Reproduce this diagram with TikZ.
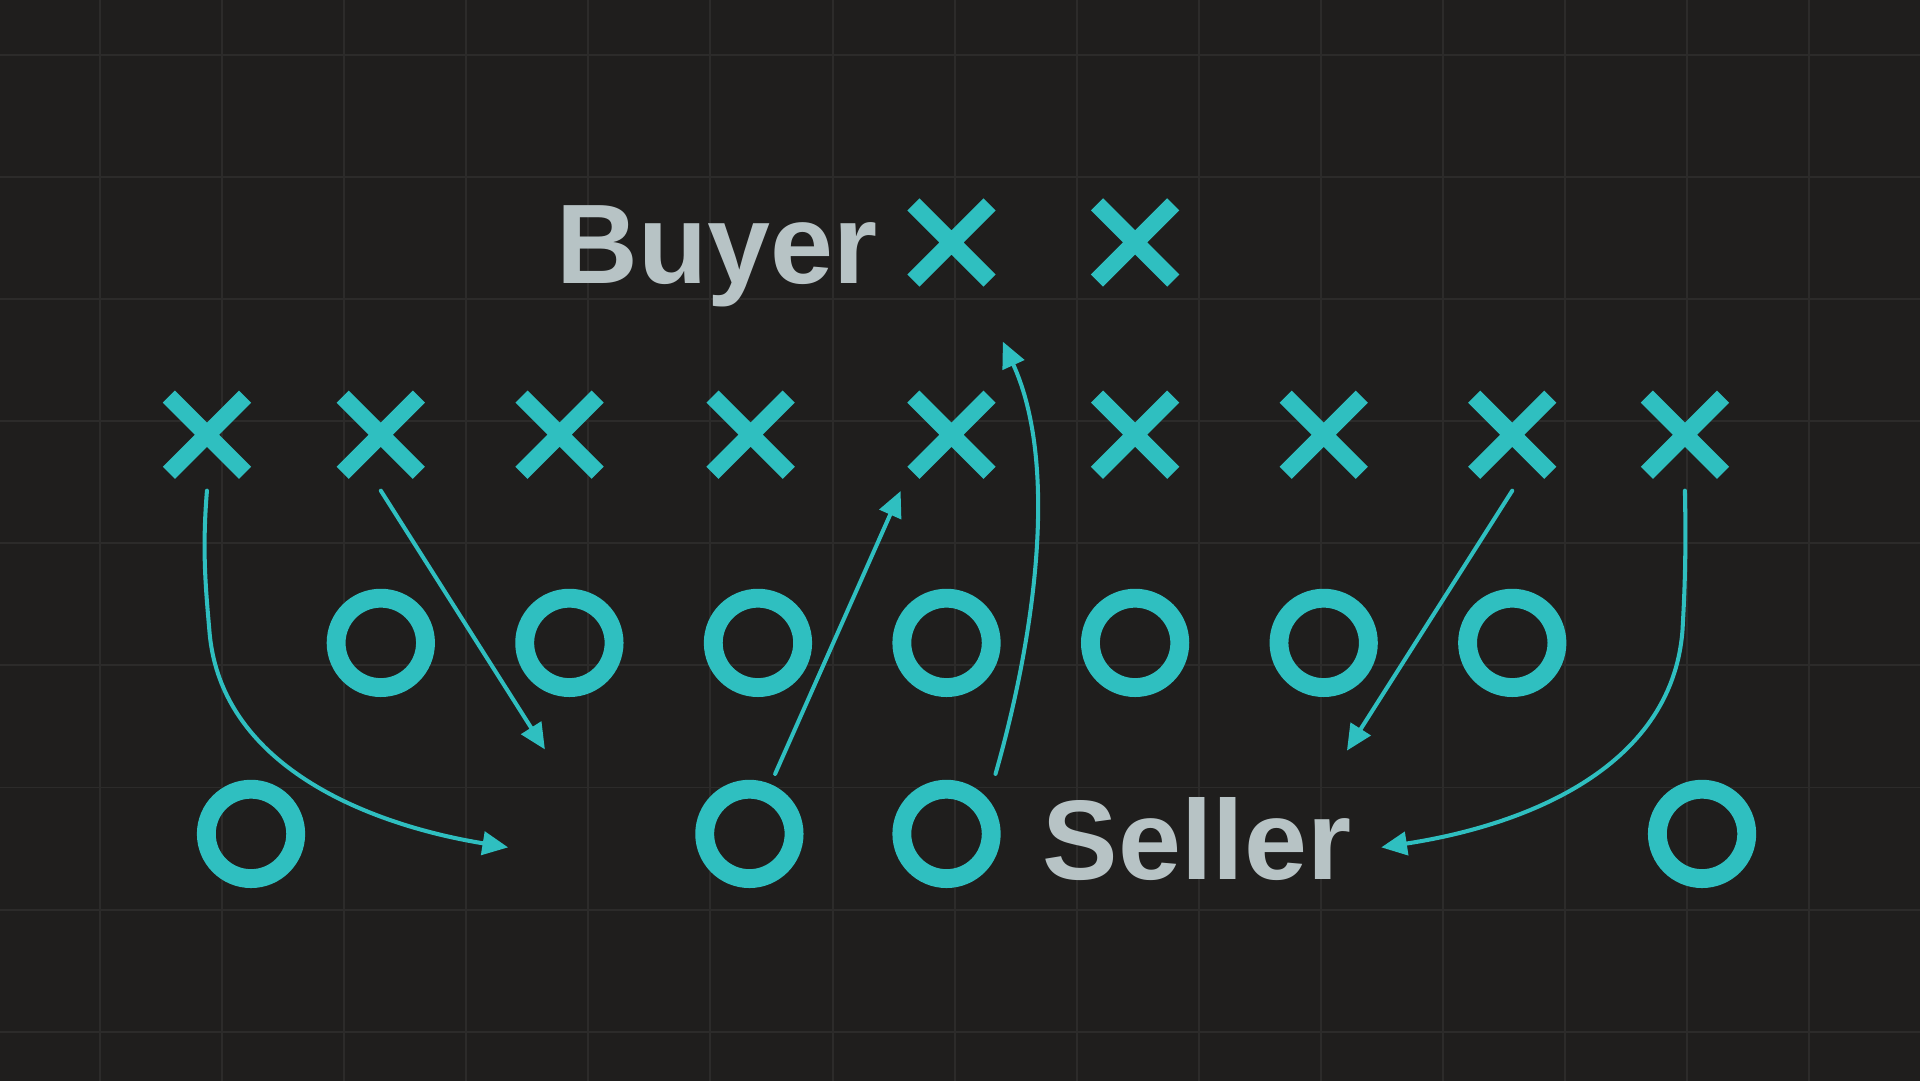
\documentclass[tikz,border=0pt]{standalone}
\usepackage{fontspec}
\setmainfont{Liberation Sans}
\usetikzlibrary{arrows.meta}
\definecolor{bgcol}{HTML}{1F1E1D}
\definecolor{gridcol}{HTML}{2C2B2A}
\definecolor{playcol}{HTML}{2FBFC0}
\definecolor{labcol}{HTML}{B7C3C5}
\tikzset{
  oplayer/.style={circle,draw=playcol,line width=0.154cm,minimum size=0.73cm,inner sep=0},
  xplayer/.style={minimum size=0.9cm,inner sep=0,
    path picture={\draw[playcol,line width=0.14cm,shift={(path picture bounding box.center)}]
      (-0.311,-0.311) -- (0.311,0.311) (-0.311,0.311) -- (0.311,-0.311);}},
  route/.style={-{Triangle[length=0.21cm,width=0.19cm]},line width=0.033cm,playcol,line cap=round},
  role/.style={text=labcol,font=\bfseries\fontsize{26.3}{30}\selectfont,anchor=base west,inner sep=0},
}

\begin{document}
\begin{tikzpicture}
  % --- Definitions ---
  \def\W{15.68}      % Total width
  \def\H{8.82}       % Total height
  \def\gap{0.997}    % Grid spacing
  \def\rowTop{-1.98} % Back X row
  \def\rowX{-3.55}   % Front X row
  \def\rowO{-5.25}   % First O row
  \def\rowB{-6.81}   % Back O row

  % --- 1. Board ---
  \useasboundingbox (0,0) rectangle (\W,-\H);
  \fill[bgcol] (-0.1,0.1) rectangle (\W+0.1,-\H-0.1);
  \foreach \i in {0,...,14} {%
    \draw[gridcol, line width=0.016cm] (0.817+\i*\gap,0.1) -- (0.817+\i*\gap,-\H-0.1);
  }
  \foreach \i in {0,...,8} {%
    \draw[gridcol, line width=0.016cm] (-0.1,-0.449-\i*\gap) -- (\W+0.1,-0.449-\i*\gap);
  }

  % --- 2. Players ---
  \node[xplayer] (t1) at (7.77,\rowTop) {};
  \node[xplayer] (t2) at (9.27,\rowTop) {};
  \foreach \x [count=\i] in {1.69,3.11,4.57,6.13,7.77,9.27,10.81,12.35,13.76} {%
    \node[xplayer] (x\i) at (\x,\rowX) {};
  }
  \foreach \x [count=\i] in {3.11,4.65,6.19,7.73,9.27,10.81,12.35} {%
    \node[oplayer] (o\i) at (\x,\rowO) {};
  }
  \foreach \x [count=\i] in {2.05,6.12,7.73,13.90} {%
    \node[oplayer] (b\i) at (\x,\rowB) {};
  }

  % --- 3. Labels ---
  \node[role] (buyer) at (4.54,-2.314) {Buyer};
  \node[role] (seller) at (8.51,-7.181) {Seller};

  % --- 4. Routes ---
  \coordinate (e1) at (4.15,-6.92);
  \coordinate (e2) at (4.45,-6.12);
  \coordinate (e3) at (7.355,-4.01);
  \coordinate (e4) at (8.19,-2.79);
  \coordinate (e5) at (11.00,-6.13);
  \coordinate (e6) at (11.28,-6.92);

  \draw[route] (x1.south) .. controls (1.65,-4.5) and (1.68,-4.8) .. (1.71,-5.15)
    .. controls (1.80,-6.30) and (3.10,-6.75) .. (e1);
  \draw[route] (x2.south) -- (e2);
  \draw[route] ([shift={(0.21,0.49)}]b2.center) -- (e3);
  \draw[route] ([shift={(0.40,0.49)}]b3.center) .. controls (8.45,-5.20) and (8.65,-3.80) .. (e4);
  \draw[route] (x8.south) -- (e5);
  \draw[route] (x9.south) .. controls (13.77,-4.5) and (13.76,-4.8) .. (13.74,-5.15)
    .. controls (13.65,-6.30) and (12.40,-6.75) .. (e6);

\end{tikzpicture}
\end{document}
